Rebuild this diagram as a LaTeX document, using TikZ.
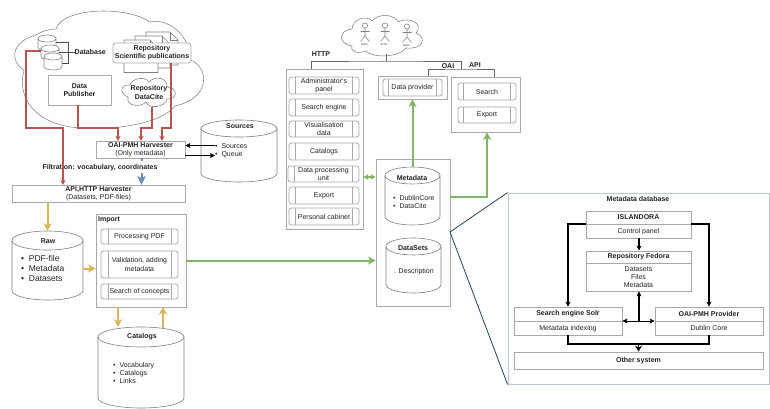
\documentclass[tikz,border=0pt]{standalone}
\usepackage{fontspec}
\setmainfont{Liberation Sans}
\usetikzlibrary{arrows.meta,fit,calc}
\definecolor{redL}{HTML}{B85450}
\definecolor{yelL}{HTML}{D6B656}
\definecolor{grnL}{HTML}{82B366}
\definecolor{bluL}{HTML}{6C8EBF}
\definecolor{navL}{HTML}{23445D}
\definecolor{paneL}{HTML}{BAC8D3}
\definecolor{grayL}{HTML}{A8A8A8}
\definecolor{txtL}{HTML}{222222}
\tikzset{
  every node/.style={text=txtL,font=\fontsize{7}{8.2}\selectfont},
  outl/.style={draw=grayL,line width=0.8pt},
  thinl/.style={draw=black!50,line width=0.55pt},
  bx/.style={outl,fill=white,inner sep=0pt,align=center},
  prc/.style={bx,rounded corners=2.5pt},
  ghost/.style={inner sep=0pt,align=center},
  cyl/.style={draw=black!50,line width=0.6pt,fill=white},
  ttl/.style={font=\bfseries\fontsize{7}{8.2}\selectfont},
  lbl/.style={inner sep=0pt},
  tip/.style={-{Stealth[inset=2pt,length=7.5pt,width=8pt]}},
  redw/.style={draw=redL,line width=1.1pt,-{Stealth[inset=1.4pt,length=5pt,width=5pt]}},
  yelw/.style={draw=yelL,line width=2pt,tip},
  grnw/.style={draw=grnL,line width=2pt,tip},
  blkw/.style={draw=black,line width=1.1pt,-{Stealth[length=5pt,width=5pt]}},
  blkt/.style={draw=black,line width=0.9pt,-{Stealth[inset=1pt,length=5pt,width=5pt]}},
  busl/.style={draw=black!60,line width=0.9pt},
  zooml/.style={draw=navL,line width=0.8pt},
}
% name, x1, y1, x2, y2, cap height
\newcommand{\dbcyl}[6]{%
  \node[inner sep=0pt,fit={(#2,#3) (#4,#5)}] (#1) {};
  \pgfmathsetmacro{\cmx}{(#2+#4)/2}
  \pgfmathsetmacro{\ctl}{0.5523*(#4-#2)/2}
  \pgfmathsetmacro{\ya}{#3+#6}
  \pgfmathsetmacro{\yb}{#5-#6}
  \pgfmathsetmacro{\yka}{0.5523*#6}
  \draw[cyl] (#2,\ya) .. controls (#2,\ya-\yka) and (\cmx-\ctl,#3) .. (\cmx,#3)
    .. controls (\cmx+\ctl,#3) and (#4,\ya-\yka) .. (#4,\ya) -- (#4,\yb)
    .. controls (#4,\yb+\yka) and (\cmx+\ctl,#5) .. (\cmx,#5)
    .. controls (\cmx-\ctl,#5) and (#2,\yb+\yka) .. (#2,\yb) -- cycle;
  \draw[cyl,fill=none] (#2,\ya) .. controls (#2,\ya+\yka) and (\cmx-\ctl,\ya+#6) .. (\cmx,\ya+#6)
    .. controls (\cmx+\ctl,\ya+#6) and (#4,\ya+\yka) .. (#4,\ya);
}
% name, x1, y1, x2, y2, divider inset, text
\newcommand{\procbox}[7]{%
  \node[prc,fit={(#2,#3) (#4,#5)},label={[ghost,align=center]center:#7}] (#1) {};
  \draw[outl] ([xshift=#6pt]#1.north west) -- ([xshift=#6pt]#1.south west);
  \draw[outl] ([xshift=-#6pt]#1.north east) -- ([xshift=-#6pt]#1.south east);
}
% name, x1, y1, x2, y2, divider y, title, text
\newcommand{\splitbox}[8]{%
  \node[bx,fit={(#2,#3) (#4,#5)}] (#1) {};
  \coordinate (#1div) at (#2,#6);
  \draw[outl] (#1div) -- (#1div -| #1.east);
  \node[ttl] at ($(#1div -| #1.center)!0.5!(#1.north)$) {#7};
  \node[align=center] at ($(#1div -| #1.center)!0.5!(#1.south)$) {#8};
}
\newcommand{\page}[4]{%
  \draw[thinl,fill=white] (#1,#2) -- (#3-8,#2) -- (#3,#2+8) -- (#3,#4) -- (#1,#4) -- cycle;
  \draw[thinl] (#3-8,#2) -- (#3-8,#2+8) -- (#3,#2+8);
}
\newcommand{\actor}[2]{%
  \draw[thinl] (#1,#2) circle[radius=2.6pt];
  \draw[thinl] (#1,#2+2.6) -- (#1,#2+10.5) (#1-4.5,#2+6) -- (#1+4.5,#2+6)
    (#1-4.5,#2+16) -- (#1,#2+10.5) -- (#1+4.5,#2+16);
}
\begin{document}
\begin{tikzpicture}[x=1pt,y=-1pt]
\useasboundingbox (0,0) rectangle (770,409);
\fill[white] (0,0) rectangle (770,409);

% main cloud
\draw[thinl,fill=white] (24,70) .. controls (10,62) and (10,42) .. (36,35)
  .. controls (42,31) and (50,29) .. (56,29)
  .. controls (62,8) and (125,5) .. (150,22)
  .. controls (165,18) and (190,32) .. (190,60)
  .. controls (207,65) and (214,97) .. (175,106)
  .. controls (160,125) and (110,130) .. (85,128)
  .. controls (45,128) and (15,105) .. (24,70) -- cycle;

% database
\dbcyl{dbA}{38}{35}{56}{51}{3.5}
\dbcyl{dbB}{41}{45}{59}{60}{3.5}
\dbcyl{dbC}{44}{53}{62}{70}{3.5}
\node[ttl,lbl,anchor=west] (dbl) at (74.5,52) {Database};
\coordinate (dbj) at (68.5,52);
\draw[draw=black!70,line width=0.7pt] (dbA.east |- 0,42) -| (dbj) (dbB.east |- 0,52) -- (dbl.west) (dbC.east |- 0,63) -| (dbj);

% documents and repository
\page{146}{32}{178}{65}
\page{135}{36}{170}{68}
\page{124}{40}{158}{72.5}
\node[bx,rounded corners=3pt,ttl,fit={(113,43) (191,63)},label={[ttl,align=center]center:Repository\\Scientific publications}] (repo) {};

\node[bx,fit={(48,75) (111,105)},label={[ttl,align=center]center:Data\\Publisher}] (pub) {};

\draw[thinl,fill=white] (128,97) .. controls (119,94) and (120,84) .. (130,85)
  .. controls (132,78) and (145,76) .. (149,82)
  .. controls (155,75) and (168,78) .. (167,87)
  .. controls (178,87) and (178,100) .. (167,99)
  .. controls (165,108) and (148,109) .. (146,102)
  .. controls (140,108) and (126,106) .. (128,97) -- cycle;
\node[ghost,ttl,fit={(122,78) (176,107)},label={[ttl,align=center]center:Repository\\DataCite}] (dc) {};

% harvesters
\node[bx,fit={(96,141) (185,158)},label={[align=center]center:{\bfseries OAI-PMH Harvester}\\(Only metadata)}] (oai) {};
\node[bx,fit={(12,185) (185,202)},label={[align=center]center:{\bfseries API,HTTP Harvester}\\(Datasets, PDF-files)}] (api) {};
\node[ttl,lbl] (filt) at (100,168) {Filtration: vocabulary, coordinates};

\coordinate (busY) at (0,128);
\coordinate (oaiA) at (118,141);
\coordinate (oaiB) at (141,141);
\coordinate (oaiC) at (162,141);
\coordinate (apiA) at (63,185);
\coordinate (apiB) at (141.5,185);
\coordinate (oaiD) at (141.5,158);
\draw[redw] (dbB.west |- 0,51) -- (26,51) -- (26,128) -- (63,128) -- (apiA);
\draw[redw] (78,105) |- (busY -| oaiA) -- (oaiA);
\draw[redw] (dc.south -| 152,0) |- (busY -| oaiB) -- (oaiB);
\draw[redw] (repo.south -| 171,0) |- (busY -| oaiC) -- (oaiC);
\draw[draw=bluL,line width=2pt] (oaiD) -- ++(0,3);
\draw[draw=bluL,line width=2pt,-{Stealth[inset=2pt,length=9pt,width=8.5pt]}] (141.5,173) -- (apiB);

% sources
\dbcyl{src}{201}{120}{277}{182}{8.5}
\node[ttl] at (240,126) {Sources};
\node[align=left,inner sep=0pt,anchor=west] (srcl) at (215,151) {\textbullet\ \ Sources\\\textbullet\ \ Queue};
\coordinate (srcIn) at (215,145.5);
\coordinate (srcOut) at (215,155.5);
\draw[blkt] (srcIn) -- (srcIn -| oai.east);
\draw[blkt] (srcOut -| oai.east) -- (srcOut);

% raw
\dbcyl{raw}{12}{231}{83}{300}{9.5}
\node[ttl] at (48,241) {Raw};
\node[align=left,inner sep=0pt,anchor=west,font=\fontsize{8.5}{10.3}\selectfont] at (21,268.5) {\textbullet\ \ PDF-file\\\textbullet\ \ Metadata\\\textbullet\ \ Datasets};
\draw[yelw] (api.south -| raw.center) -- (raw.north);

% import
\node[bx,fit={(96,214) (186,307)}] (imp) {};
\node[ttl,lbl,anchor=west] at (98,220) {Import};
\procbox{pa}{101}{229}{178}{244}{7.5}{Processing PDF}
\procbox{pb}{101}{251}{178}{278}{7.5}{Validation, adding\\metadata}
\procbox{pc}{101}{284}{178}{299}{7.5}{Search of concepts}
\draw[yelw] (raw.east |- 0,268.5) -- (imp.west |- 0,268.5);

% catalogs
\dbcyl{cat}{98}{327}{184}{408}{10}
\node[ttl] at (142,337) {Catalogs};
\node[align=left,inner sep=0pt,anchor=west] at (113,373) {\textbullet\ \ Vocabulary\\\textbullet\ \ Catalogs\\\textbullet\ \ Links};
\coordinate (impA) at (118,307);
\coordinate (impB) at (163,307);
\draw[yelw] (impA) -- (impA |- cat.north);
\draw[yelw] (impB |- 0,328) -- (impB);

% actor cloud
\draw[thinl,fill=white] (352,46) .. controls (338,44) and (338,30) .. (352,29)
  .. controls (352,20) and (366,14) .. (372,21)
  .. controls (378,13) and (395,14) .. (398,22)
  .. controls (410,16) and (424,24) .. (416,33)
  .. controls (428,38) and (422,50) .. (406,48)
  .. controls (398,58) and (372,58) .. (366,51)
  .. controls (358,54) and (350,52) .. (352,46) -- cycle;
\node[inner sep=0pt,fit={(341,17) (423,54)}] (actors) {};
\actor{365}{25.5}
\actor{385}{25.5}
\actor{407}{26.5}
\node[lbl,font=\fontsize{2.8}{3}\selectfont] at (364.5,44.5) {Actor};
\node[lbl,font=\fontsize{2.8}{3}\selectfont] at (384,44.5) {Actor};
\node[lbl,font=\fontsize{2.8}{3}\selectfont] at (406.5,45.5) {Actor};

% HTTP panel
\node[bx,fit={(286,69) (363,229)}] (http) {};
\procbox{h1}{289}{77}{359}{94}{7}{Administrator`s\\panel}
\procbox{h2}{289}{99}{359}{116}{7}{Search engine}
\procbox{h3}{289}{121}{359}{137}{7}{Visualisation\\data}
\procbox{h4}{289}{143}{359}{160}{7}{Catalogs}
\procbox{h5}{288}{166}{359}{182}{7}{Data processing\\unit}
\procbox{h6}{289}{187}{359}{204}{7}{Export}
\procbox{h7}{289}{208}{359}{225}{7}{Personal cabinet}

% provider and API panels
\node[bx,fit={(378,76) (447,99)}] (prov) {};
\procbox{pv}{383}{79}{442}{96}{6}{Data provider}
\node[bx,fit={(451,77) (520,132)}] (apip) {};
\procbox{as}{458}{83}{516}{100}{6}{Search}
\procbox{ae}{458}{107}{516}{123}{6}{Export}

% top bus
\coordinate (busA) at (386,61);
\coordinate (busB) at (461,69);
\draw[busl] (actors.south -| busA) -- (busA);
\draw[busl] (http.north -| 311,0) |- (busA) -| (busB);
\draw[busl] (prov.north -| 428,0) |- (busB) -| (apip.north -| 494,0);
\node[ttl,lbl] at (321,54.5) {HTTP};
\node[ttl,lbl] at (448,66) {OAI};
\node[ttl,lbl] at (475,65.5) {API};

% storage panel
\node[bx,fit={(376,159) (450,306)}] (store) {};
\dbcyl{meta}{385}{167}{440}{225}{8.5}
\node[ttl] at (412,177.5) {Metadata};
\node[align=left,inner sep=0pt,anchor=west] at (393,202) {\textbullet\ \ DublinCore\\\textbullet\ \ DataCite};
\dbcyl{dset}{386}{238}{441}{293}{8.5}
\node[ttl] at (413,248) {DataSets};
\node[lbl,anchor=west] at (394,272) {. Description};

% green links
\draw[grnw] (meta.north -| prov.south) -- (prov.south);
\coordinate (grnK) at (487,197);
\draw[grnw] (store.east |- grnK) -- (grnK) -- (grnK |- apip.south);
\draw[draw=grnL,line width=1.1pt,{Stealth[inset=1pt,length=5pt,width=5.5pt]}-{Stealth[inset=1pt,length=5pt,width=5.5pt]}] (http.east |- 0,177) -- (store.west |- 0,177);
\draw[grnw] (imp.east |- 0,260.5) -- (store.west |- 0,260.5);

% metadata database
\node[fit={(508,193) (769.5,384)},inner sep=0pt,draw=paneL,line width=0.9pt,fill=white] (mdb) {};
\coordinate (zoomO) at (450,232);
\draw[zooml] (mdb.north west) -- (zoomO) -- (mdb.south west);
\node[ttl,lbl] at (638,198.5) {Metadata database};
\splitbox{isl}{586}{211}{691}{238}{224}{ISLANDORA}{Control panel}
\splitbox{fed}{586}{251}{691}{291}{263}{Repository Fedora}{Datasets\\Files\\Metadata}
\splitbox{solr}{514}{307}{622}{335}{321}{Search engine Solr}{Metadata indexing}
\splitbox{oaip}{655}{307}{763}{335}{321}{OAI-PMH Provider}{Dublin Core}
\node[bx,fit={(514,352) (763,369)},label={[ttl]center:Other system}] (other) {};

\coordinate (lK) at (568,224);
\coordinate (rK) at (709,224);
\coordinate (mrg) at (638.5,344);
\coordinate (cross) at (639,321);
\draw[blkw] (isl.west |- lK) -- (lK) -- (lK |- solr.north);
\draw[blkw] (isl.east |- rK) -- (rK) -- (rK |- oaip.north);
\draw[blkw] (isl.south -| cross) -- (fed.north -| cross);
\draw[blkw] (cross) -- (fed.south -| cross);
\draw[blkt,{Stealth[inset=1pt,length=5pt,width=5pt]}-{Stealth[inset=1pt,length=5pt,width=5pt]}] (solr.east |- cross) -- (oaip.west |- cross);
\draw[draw=black,line width=1.6pt] (lK |- solr.south) |- (mrg) -| (rK |- oaip.south);
\draw[draw=black,line width=1.6pt,-{Stealth[length=6pt,width=7pt]}] (mrg) -- (mrg |- other.north);
\end{tikzpicture}
\end{document}
